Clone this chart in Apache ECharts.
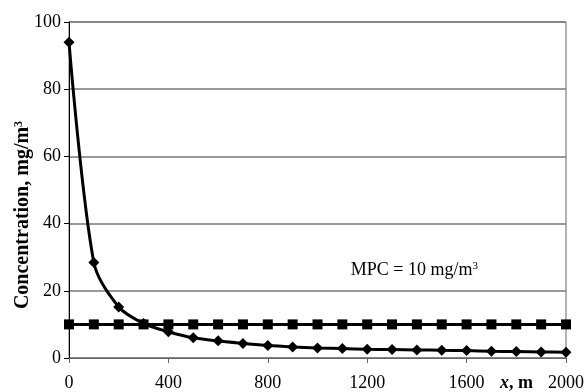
<!DOCTYPE html>
<html>
<head>
<meta charset="utf-8">
<script src="https://cdn.jsdelivr.net/npm/echarts@6/dist/echarts.min.js"></script>
<style>
  html, body { margin: 0; padding: 0; background: #fff; }
  #chart { width: 587px; height: 392px; }
</style>
</head>
<body>
<div id="chart"></div>
<script>
// distance from source, m
const distances = [0, 100, 200, 300, 400, 500, 600, 700, 800, 900, 1000,
  1100, 1200, 1300, 1400, 1500, 1600, 1700, 1800, 1900, 2000];
// concentration, mg/m3
const concentration = [94, 28.4, 15.2, 10.3, 7.8, 6.0, 5.1, 4.3, 3.7, 3.3, 3.0,
  2.8, 2.6, 2.5, 2.4, 2.3, 2.2, 2.0, 1.9, 1.8, 1.7];
// maximum permissible concentration
const mpc = [10, 10, 10, 10, 10, 10, 10, 10, 10, 10, 10,
  10, 10, 10, 10, 10, 10, 10, 10, 10, 10];
const yTicks = [0, 20, 40, 60, 80, 100];
const xTicks = [0, 400, 800, 1200, 1600, 2000];

const serif = "'Liberation Serif', 'DejaVu Serif', serif";
const chart = echarts.init(document.getElementById("chart"), null, { renderer: "canvas" });

chart.setOption({
  animation: false,
  backgroundColor: "#fff",
  textStyle: { fontFamily: serif, color: "#000" },
  grid: {
    left: 69, right: 21, top: 22, bottom: 34,
    outerBoundsMode: "none",
    show: true, borderColor: "#666", borderWidth: 1
  },
  xAxis: {
    type: "value",
    min: xTicks[0],
    max: xTicks[xTicks.length - 1],
    interval: 400,
    axisLine: { lineStyle: { color: "#666", width: 1 } },
    axisTick: { show: true, length: 5, lineStyle: { color: "#666" } },
    axisLabel: { fontFamily: serif, fontSize: 18, color: "#000", margin: 16, formatter: (v) => String(v) },
    splitLine: { show: false }
  },
  yAxis: {
    type: "value",
    min: yTicks[0],
    max: yTicks[yTicks.length - 1],
    interval: 20,
    axisLine: { show: true, lineStyle: { color: "#000", width: 1 } },
    axisTick: { show: true, length: 5, lineStyle: { color: "#000" } },
    axisLabel: { fontFamily: serif, fontSize: 18, color: "#000", margin: 8, formatter: (v) => String(v) },
    splitLine: { show: true, lineStyle: { color: "#777", width: 1.5 } }
  },
  series: [
    {
      name: "MPC",
      type: "line",
      data: distances.map((x, i) => [x, mpc[i]]),
      symbol: "rect",
      symbolSize: 10,
      itemStyle: { color: "#000" },
      lineStyle: { color: "#000", width: 3 },
      z: 3,
      markPoint: {
        symbol: "circle",
        symbolSize: 0,
        data: [{ coord: [1390, 26.2], value: 10 }],
        label: {
          show: true,
          position: "inside",
          formatter: "{t|MPC = 10 mg/m}{s|3}",
          rich: {
            t: { fontFamily: serif, fontSize: 18, color: "#000" },
            s: { fontFamily: serif, fontSize: 11, color: "#000", verticalAlign: "top", padding: [0, 0, 8, 0] }
          }
        }
      }
    },
    {
      name: "Concentration",
      type: "line",
      data: distances.map((x, i) => [x, concentration[i]]),
      smooth: 0.3,
      symbol: "diamond",
      symbolSize: 11,
      itemStyle: { color: "#000" },
      lineStyle: { color: "#000", width: 3 },
      z: 4
    }
  ],
  graphic: [
    {
      type: "text",
      x: 23,
      y: 215,
      rotation: Math.PI / 2,
      style: {
        text: "{t|Concentration, mg/m}{s|3}",
        align: "center",
        verticalAlign: "middle",
        rich: {
          t: { fontFamily: serif, fontWeight: "bold", fontSize: 20, fill: "#000" },
          s: { fontFamily: serif, fontWeight: "bold", fontSize: 12, fill: "#000", verticalAlign: "top", padding: [0, 0, 9, 0] }
        }
      }
    },
    {
      type: "text",
      left: 500,
      top: 374,
      style: {
        text: "{i|x}{b|, m}",
        rich: {
          i: { fontFamily: serif, fontSize: 18, fontWeight: "bold", fontStyle: "italic", fill: "#000" },
          b: { fontFamily: serif, fontSize: 18, fontWeight: "bold", fill: "#000" }
        }
      }
    }
  ]
});
</script>
</body>
</html>
